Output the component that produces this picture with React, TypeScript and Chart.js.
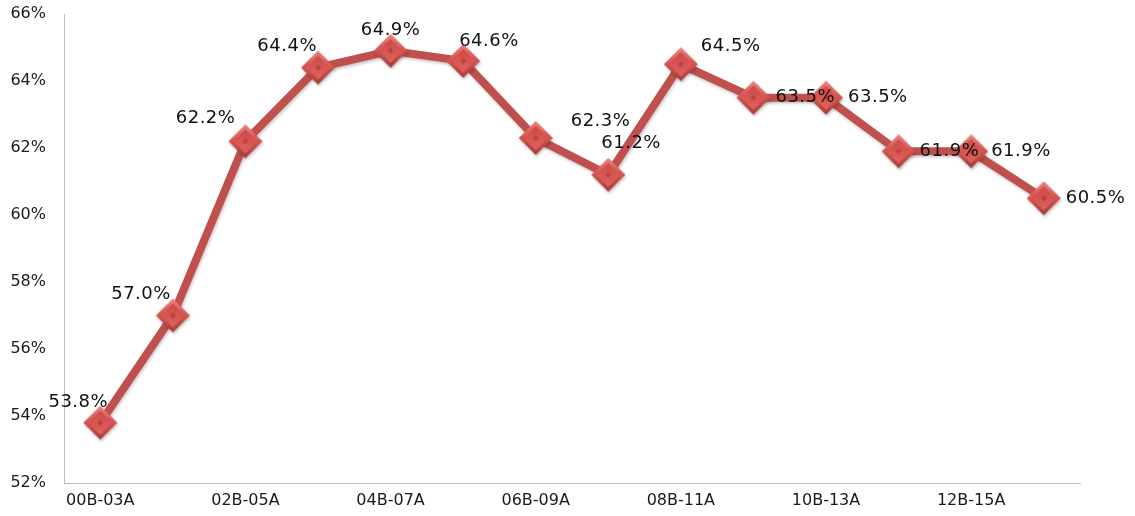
import React, { useEffect, useRef } from "react";
import { Chart, registerables } from "chart.js";
Chart.register(...registerables);

const categories = [
  "00B-03A", "01B-04A", "02B-05A", "03B-06A", "04B-07A", "05B-08A", "06B-09A",
  "07B-10A", "08B-11A", "09B-12A", "10B-13A", "11B-14A", "12B-15A", "13B-16A",
];
const values = [53.8, 57.0, 62.2, 64.4, 64.9, 64.6, 62.3, 61.2, 64.5, 63.5, 63.5, 61.9, 61.9, 60.5];
const yMin = 52;
const yMax = 66;
const yStep = 2;

// label placement relative to each point: [align, dx, dy]
const labelPlacement: [CanvasTextAlign, number, number][] = [
  ["center", -22, -20],
  ["right", -2, -21],
  ["right", -10, -23],
  ["right", -1, -21],
  ["center", 0, -21],
  ["left", -4, -20],
  ["left", 35, -17],
  ["left", -7, -31],
  ["left", 20, -18],
  ["left", 22, 0],
  ["left", 22, 0],
  ["left", 21, 0],
  ["left", 20, 0],
  ["left", 22, 0],
];

function makeDiamond(): HTMLCanvasElement {
  const s = 38;
  const c = document.createElement("canvas");
  c.width = s;
  c.height = s;
  const g = c.getContext("2d")!;
  const cx = s / 2, cy = s / 2;
  const dia = (r: number) => {
    g.beginPath();
    g.moveTo(cx, cy - r);
    g.lineTo(cx + r, cy);
    g.lineTo(cx, cy + r);
    g.lineTo(cx - r, cy);
    g.closePath();
  };
  const R = 17;
  const grad = g.createLinearGradient(0, cy - R, 0, cy + R);
  grad.addColorStop(0, "#ec847f");
  grad.addColorStop(0.5, "#d4524e");
  grad.addColorStop(1, "#a63c39");
  dia(R);
  g.fillStyle = grad;
  g.fill();
  const grad2 = g.createLinearGradient(0, cy - 12, 0, cy + 12);
  grad2.addColorStop(0, "#cc4a47");
  grad2.addColorStop(1, "#df635f");
  dia(12);
  g.fillStyle = grad2;
  g.fill();
  dia(3);
  g.fillStyle = "#bf3f3c";
  g.fill();
  return c;
}

const shadowPlugin = {
  id: "lineShadow",
  beforeDatasetDraw(chart: any) {
    const ctx = chart.ctx;
    ctx.save();
    ctx.shadowColor = "rgba(0,0,0,0.22)";
    ctx.shadowBlur = 3;
    ctx.shadowOffsetX = 1;
    ctx.shadowOffsetY = 2;
  },
  afterDatasetDraw(chart: any) {
    chart.ctx.restore();
  },
};

const labelPlugin = {
  id: "pointLabels",
  afterDatasetsDraw(chart: any) {
    const ctx = chart.ctx;
    const meta = chart.getDatasetMeta(0);
    ctx.save();
    ctx.font = '18px "DejaVu Sans"';
    ctx.fillStyle = "#111111";
    ctx.textBaseline = "middle";
    try { (ctx as any).letterSpacing = "0.5px"; } catch (e) {}
    meta.data.forEach((pt: any, i: number) => {
      const [align, dx, dy] = labelPlacement[i];
      ctx.textAlign = align;
      ctx.fillText(values[i].toFixed(1) + "%", pt.x + dx, pt.y + dy);
    });
    ctx.restore();
  },
};

export default function App() {
  const ref = useRef<HTMLCanvasElement>(null);
  useEffect(() => {
    document.body.style.margin = "0";
    const img = makeDiamond();
    const chart = new Chart(ref.current!, {
      type: "line",
      data: {
        labels: categories,
        datasets: [
          {
            data: values,
            borderColor: "#c0504d",
            borderWidth: 8,
            tension: 0,
            pointStyle: img as any,
            pointRadius: 17,
            pointHoverRadius: 17,
          },
        ],
      },
      options: {
        animation: false,
        responsive: false,
        events: [],
        layout: { autoPadding: false, padding: { top: 14, right: 55, left: 0, bottom: 0 } },
        plugins: { legend: { display: false }, tooltip: { enabled: false } },
        scales: {
          x: {
            offset: true,
            grid: { display: false, drawTicks: false },
            border: { display: true, color: "#bcbcbc", width: 1 },
            ticks: {
              autoSkip: false,
              maxRotation: 0,
              padding: 8,
              color: "#1a1a1a",
              font: { family: "DejaVu Sans", size: 16 },
              callback: (_v: any, i: number) => (i % 2 === 0 ? categories[i] : ""),
            },
            afterFit: (s: any) => { s.height = 33; },
          },
          y: {
            min: yMin,
            max: yMax,
            grid: { display: false, drawTicks: false },
            border: { display: true, color: "#bcbcbc", width: 1 },
            ticks: {
              stepSize: yStep,
              padding: 18,
              color: "#1a1a1a",
              font: { family: "DejaVu Sans", size: 16 },
              callback: (v: any) => v + "%",
            },
            afterFit: (s: any) => { s.width = 64; s.paddingTop = 0; s.paddingBottom = 0; },
          },
        },
      },
      plugins: [shadowPlugin, labelPlugin],
    });
    return () => chart.destroy();
  }, []);
  return (
    <div style={{ width: 1135, height: 516 }}>
      <canvas ref={ref} width={1135} height={516} />
    </div>
  );
}
